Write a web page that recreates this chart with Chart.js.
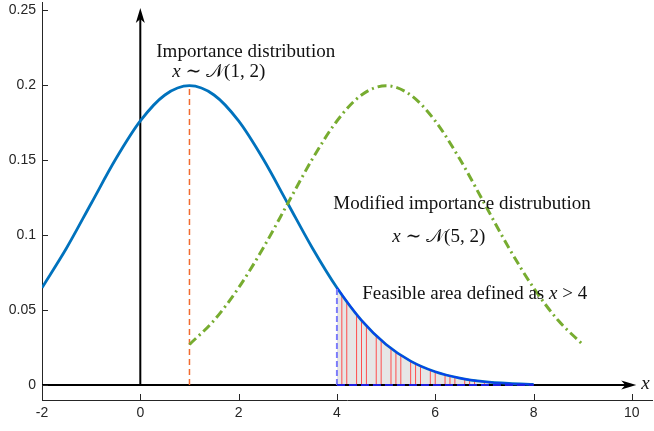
<!DOCTYPE html>
<html>
<head>
<meta charset="utf-8">
<script src="https://cdn.jsdelivr.net/npm/chart.js@4.4.1/dist/chart.umd.min.js"></script>
<style>
  html, body { margin: 0; padding: 0; background: #fff; }
  #wrap { width: 654px; height: 431px; }
</style>
</head>
<body>
<div id="wrap"><canvas id="myChart"></canvas></div>
<script>
// ===== data =====
const xTicks = [-2, 0, 2, 4, 6, 8, 10];
const yTicks = [0, 0.05, 0.1, 0.15, 0.2, 0.25];
const yTickLabels = ['0', '0.05', '0.1', '0.15', '0.2', '0.25'];

// importance distribution x ~ N(1,2), x = -2 .. 8 step 0.5
const blueX = [-2, -1.5, -1, -0.5, 0, 0.5, 1, 1.5, 2, 2.5, 3, 3.5, 4, 4.5, 5, 5.5, 6, 6.5, 7, 7.5, 8];
const blueY = [0.0648, 0.0913, 0.1210, 0.1506, 0.1760, 0.1933, 0.1995, 0.1933, 0.1760, 0.1506, 0.1210,
               0.0913, 0.0648, 0.0431, 0.0270, 0.0159, 0.0088, 0.0046, 0.0022, 0.0010, 0.0004];

// modified distribution x ~ N(5,2), x = 1 .. 9 step 0.5
const greenX = [1, 1.5, 2, 2.5, 3, 3.5, 4, 4.5, 5, 5.5, 6, 6.5, 7, 7.5, 8, 8.5, 9];
const greenY = [0.0270, 0.0431, 0.0648, 0.0913, 0.1210, 0.1506, 0.1760, 0.1933, 0.1995,
                0.1933, 0.1760, 0.1506, 0.1210, 0.0913, 0.0648, 0.0431, 0.0270];

// red sample lines in the feasible area
const sampleX = [4.1, 4.2, 4.4, 4.5, 4.6, 4.8, 4.9, 5.1, 5.2, 5.3, 5.5, 5.6, 5.7, 5.9, 6.0,
                 6.2, 6.3, 6.4, 6.6, 6.7, 6.8, 7.0, 7.1, 7.2, 7.4, 7.5, 7.6, 7.8, 7.9];
const sampleY = [0.0600, 0.0555, 0.0470, 0.0431, 0.0395, 0.0328, 0.0298, 0.0244, 0.0220, 0.0198,
                 0.0159, 0.0142, 0.0126, 0.0099, 0.0088, 0.0068, 0.0060, 0.0052, 0.0040, 0.0034,
                 0.0030, 0.0022, 0.0019, 0.0016, 0.0012, 0.0010, 0.0009, 0.0006, 0.0005];

const feasibleFrom = 4;
const peakX = 1;
const peakY = 0.1995;
const axisArrowX = 10.09;
const axisArrowY = 0.2513;

// ===== build points =====
const pts = (xs, ys) => xs.map((x, i) => ({x: x, y: ys[i]}));
const bluePts = pts(blueX, blueY);
const feasiblePts = bluePts.filter(p => p.x >= feasibleFrom);
const samplePts = [];
sampleX.forEach((x, i) => {
  samplePts.push({x: x, y: 0}, {x: x, y: sampleY[i]}, {x: x, y: null});
});
const feasibleTop = feasiblePts[0].y;
const feasibleEnd = feasiblePts[feasiblePts.length - 1].x;

const serif = '"Liberation Serif", "DejaVu Serif", serif';
const sans = '"Liberation Sans", Arial, sans-serif';

// text labels, anchored in data units
const notes = [
  {x: 0.325, y: 0.2187, runs: [['Importance distribution', '']]},
  {x: 0.65, y: 0.2053, runs: [['x', 'italic'], [' \u223C ', ''], ['\uD835\uDCA9', ''], ['(1, 2)', '']]},
  {x: 3.925, y: 0.1173, runs: [['Modified importance distrubution', '']]},
  {x: 5.125, y: 0.0953, runs: [['x', 'italic'], [' \u223C ', ''], ['\uD835\uDCA9', ''], ['(5, 2)', '']]},
  {x: 4.515, y: 0.0573, runs: [['Feasible area defined as ', ''], ['x', 'italic'], [' > 4', '']]},
  {x: 10.19, y: -0.0027, runs: [['x', 'italic']]}
];

function arrowHead(ctx, tx, ty, dx, dy) {
  // MATLAB-like arrow head with a notched back
  const len = 15, half = 4.5, notch = 11;
  const nx = -dy, ny = dx;
  ctx.beginPath();
  ctx.moveTo(tx, ty);
  ctx.lineTo(tx - dx * len + nx * half, ty - dy * len + ny * half);
  ctx.lineTo(tx - dx * notch, ty - dy * notch);
  ctx.lineTo(tx - dx * len - nx * half, ty - dy * len - ny * half);
  ctx.closePath();
  ctx.fill();
}

const extras = {
  id: 'extras',
  afterDraw(chart) {
    const ctx = chart.ctx;
    const xs = chart.scales.x, ys = chart.scales.y;
    ctx.save();
    // inward tick marks
    ctx.strokeStyle = '#262626';
    ctx.lineWidth = 1;
    ctx.beginPath();
    xTicks.forEach(v => {
      const px = Math.round(xs.getPixelForValue(v)) + 0.5;
      ctx.moveTo(px, ys.bottom);
      ctx.lineTo(px, ys.bottom - 6);
    });
    yTicks.forEach(v => {
      const py = Math.round(ys.getPixelForValue(v)) + 0.5;
      ctx.moveTo(xs.left, py);
      ctx.lineTo(xs.left + 6, py);
    });
    ctx.stroke();
    // arrow heads of the drawn axes
    ctx.fillStyle = '#000';
    arrowHead(ctx, xs.getPixelForValue(axisArrowX), ys.getPixelForValue(0), 1, 0);
    arrowHead(ctx, xs.getPixelForValue(0), ys.getPixelForValue(axisArrowY), 0, -1);
    // notes
    ctx.fillStyle = '#111';
    ctx.textBaseline = 'alphabetic';
    notes.forEach(n => {
      let px = xs.getPixelForValue(n.x);
      const py = ys.getPixelForValue(n.y);
      n.runs.forEach(r => {
        ctx.font = (r[1] ? r[1] + ' ' : '') + '19px ' + serif;
        ctx.fillText(r[0], px, py);
        px += ctx.measureText(r[0]).width;
      });
    });
    ctx.restore();
  }
};

const ctx = document.getElementById('myChart').getContext('2d');

const chart = new Chart(ctx, {
  type: 'line',
  data: {
    datasets: [
      { // feasible area shading
        data: feasiblePts, fill: 'origin', backgroundColor: '#e6e6e6',
        borderWidth: 0, pointRadius: 0, cubicInterpolationMode: 'monotone', order: 10
      },
      { // samples
        data: samplePts, borderColor: '#ff4d4d', borderWidth: 1, pointRadius: 0,
        spanGaps: false, order: 9
      },
      { // black horizontal axis
        data: [{x: -2, y: 0}, {x: axisArrowX - 0.1, y: 0}], borderColor: '#000', borderWidth: 2,
        pointRadius: 0, order: 8
      },
      { // black vertical axis
        data: [{x: 0, y: 0}, {x: 0, y: axisArrowY - 0.004}], borderColor: '#000', borderWidth: 2,
        pointRadius: 0, order: 8
      },
      { // mean marker of importance distribution
        data: [{x: peakX, y: 0}, {x: peakX, y: peakY}], borderColor: '#f26a2e', borderWidth: 1.5,
        borderDash: [6, 4], pointRadius: 0, order: 7
      },
      { // importance distribution
        data: bluePts, borderColor: '#0072bd', borderWidth: 2.8, pointRadius: 0,
        cubicInterpolationMode: 'monotone', order: 5
      },
      { // feasible part of the curve
        data: feasiblePts, borderColor: '#0a3cf0', borderWidth: 1.6, pointRadius: 0,
        cubicInterpolationMode: 'monotone', order: 4
      },
      { // lower edge of the feasible area
        data: [{x: feasibleFrom, y: 0}, {x: feasibleEnd, y: 0}], borderColor: '#2020e0', borderWidth: 2,
        borderDash: [8, 4], pointRadius: 0, order: 3
      },
      { // x = 4 boundary
        data: [{x: feasibleFrom, y: 0}, {x: feasibleFrom, y: feasibleTop}], borderColor: '#7d7dfa',
        borderWidth: 2, borderDash: [6, 3], pointRadius: 0, order: 3
      },
      { // modified importance distribution
        data: pts(greenX, greenY), borderColor: '#77ac30', borderWidth: 3, pointRadius: 0,
        borderDash: [9, 4, 2, 4], cubicInterpolationMode: 'monotone', order: 2
      }
    ]
  },
  options: {
    responsive: true,
    maintainAspectRatio: false,
    animation: false,
    parsing: false,
    layout: { padding: { top: 2, right: 2, left: 0, bottom: 0 } },
    plugins: { legend: { display: false }, tooltip: { enabled: false } },
    scales: {
      x: {
        type: 'linear', min: -2, max: 10.41,
        afterBuildTicks: s => { s.ticks = xTicks.map(v => ({value: v})); },
        afterFit: s => { s.height = 31; s.paddingLeft = 0; s.paddingRight = 0; },
        grid: { display: true, drawOnChartArea: false, drawTicks: false },
        border: { display: true, color: '#262626', width: 1 },
        ticks: {
          padding: 6, color: '#262626', maxRotation: 0, autoSkip: false,
          font: { family: sans, size: 14, lineHeight: 1 },
          callback: v => String(v)
        }
      },
      y: {
        type: 'linear', min: -0.01, max: 0.2553,
        afterBuildTicks: s => { s.ticks = yTicks.map(v => ({value: v})); },
        afterFit: s => { s.width = 42; s.paddingTop = 0; s.paddingBottom = 0; },
        grid: { display: true, drawOnChartArea: false, drawTicks: false },
        border: { display: true, color: '#262626', width: 1 },
        ticks: {
          padding: 6, color: '#262626', autoSkip: false,
          font: { family: sans, size: 14, lineHeight: 1.2 },
          callback: (v) => yTickLabels[yTicks.indexOf(v)]
        }
      }
    }
  },
  plugins: [extras]
});
</script>
</body>
</html>
